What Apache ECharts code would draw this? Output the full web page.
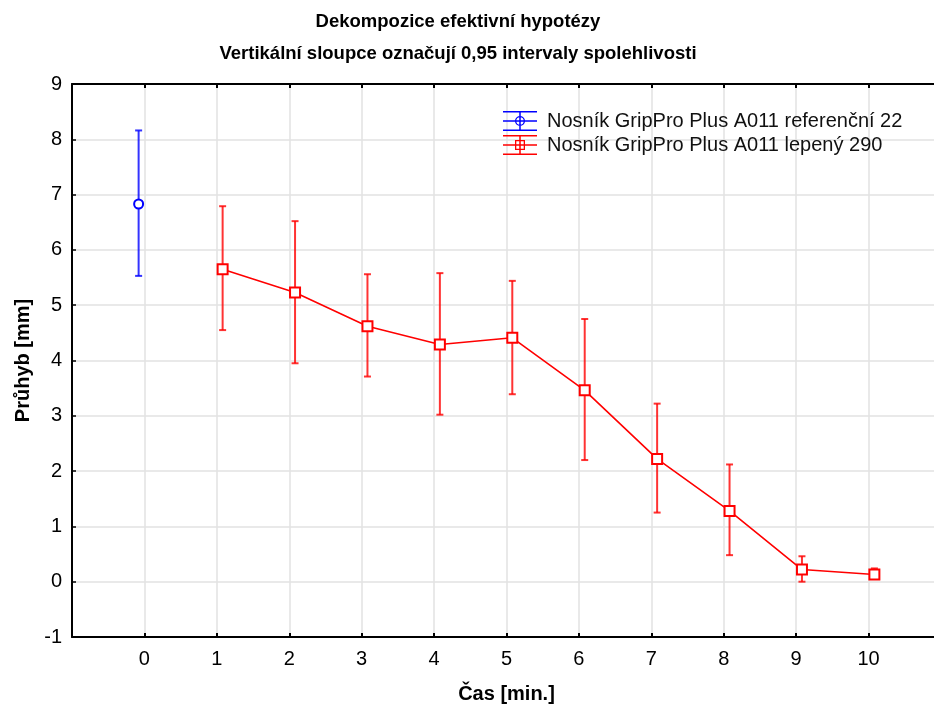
<!DOCTYPE html>
<html>
<head>
<meta charset="utf-8">
<script src="https://cdn.jsdelivr.net/npm/echarts@6/dist/echarts.min.js"></script>
<style>html,body{margin:0;padding:0;background:#fff}#c{width:934px;height:704px}</style>
</head>
<body>
<div id="c"></div>
<script>
// ---- data ----
var titleLines = ['Dekompozice efektivní hypotézy', 'Vertikální sloupce označují 0,95 intervaly spolehlivosti'];
var xName = 'Čas [min.]';
var yName = 'Průhyb [mm]';
var seriesNames = ['Nosník GripPro Plus A011 referenční 22', 'Nosník GripPro Plus A011 lepený 290'];

var refTimes = [0];
var refMean  = [6.83];
var refLow   = [5.53];
var refHigh  = [8.16];

var glueTimes = [1, 2, 3, 4, 5, 6, 7, 8, 9, 10];
var glueMean  = [5.65, 5.23, 4.62, 4.29, 4.41, 3.46, 2.22, 1.28, 0.22, 0.13];
var glueLow   = [4.55, 3.95, 3.71, 3.02, 3.39, 2.20, 1.25, 0.48, 0.00, 0.06];
var glueHigh  = [6.79, 6.52, 5.56, 5.58, 5.44, 4.75, 3.22, 2.12, 0.46, 0.24];

var xTickLabels = ['0','1','2','3','4','5','6','7','8','9','10'];

// ---- build ----
var BLUE = '#0000ff', RED = '#ff0000';
var refOffset = -0.08, glueOffset = 0.08;

function pts(times, vals, off) { return times.map(function (t, i) { return [t + off, vals[i]]; }); }
function bars(times, lo, hi, off) { return times.map(function (t, i) { return [t + off, lo[i], hi[i]]; }); }

function errRender(color) {
  return function (params, api) {
    var x = api.value(0);
    var p1 = api.coord([x, api.value(1)]);
    var p2 = api.coord([x, api.value(2)]);
    var hw = 3.5;
    var st = { stroke: color, lineWidth: 2, opacity: 0.8 };
    return {
      type: 'group',
      children: [
        { type: 'line', shape: { x1: p1[0], y1: p1[1], x2: p2[0], y2: p2[1] }, style: st },
        { type: 'line', shape: { x1: p1[0] - hw, y1: p1[1], x2: p1[0] + hw, y2: p1[1] }, style: st },
        { type: 'line', shape: { x1: p2[0] - hw, y1: p2[1], x2: p2[0] + hw, y2: p2[1] }, style: st }
      ]
    };
  };
}

var iconBase = 'M0 0H34V1.5H0Z M0 18.5H34V20H0Z M16.25 0H17.75V20H16.25Z M0 9.25H34V10.75H0Z ';
var iconCircle = 'path://' + iconBase + 'M12 10A5 5 0 1 1 22 10A5 5 0 1 1 12 10Z M13.3 10A3.7 3.7 0 1 0 20.7 10A3.7 3.7 0 1 0 13.3 10Z';
var iconSquare = 'path://' + iconBase + 'M12 5H22V15H12Z M13.3 6.3V13.7H20.7V6.3Z';

var font = 'Liberation Sans, Arial, sans-serif';

var chart = echarts.init(document.getElementById('c'), null, { renderer: 'canvas' });
chart.setOption({
  backgroundColor: '#fff',
  animation: false,
  textStyle: { fontFamily: font },
  title: {
    text: titleLines.join('\n'),
    left: 453, top: 1, textAlign: 'center',
    textStyle: { fontSize: 18.5, fontWeight: 'bold', color: '#000', lineHeight: 32, fontFamily: font }
  },
  legend: {
    orient: 'vertical', left: 503, top: 111, padding: 0,
    itemWidth: 34, itemHeight: 20, itemGap: 4,
    textStyle: { fontSize: 20, lineHeight: 20, color: '#111', fontFamily: font, padding: [0, 0, 0, 5] },
    selectedMode: false,
    data: [
      { name: seriesNames[0], icon: iconCircle, itemStyle: { color: BLUE, borderWidth: 0 } },
      { name: seriesNames[1], icon: iconSquare, itemStyle: { color: RED, borderWidth: 0 } }
    ]
  },
  grid: { left: 72, top: 84, right: -7, bottom: 67, containLabel: false, outerBoundsMode: 'none' },
  xAxis: [{
    type: 'value', min: -1, max: 11, interval: 1, position: 'bottom',
    name: xName, nameLocation: 'middle', nameGap: 47,
    nameTextStyle: { fontSize: 20, fontWeight: 'bold', color: '#000', fontFamily: font },
    axisLine: { onZero: false, lineStyle: { color: '#000', width: 2 } },
    axisTick: { inside: true, length: 4, lineStyle: { color: '#000', width: 2 } },
    axisLabel: {
      fontSize: 20, color: '#000', margin: 12, fontFamily: font,
      formatter: function (v) { var i = Math.round(v); return (i >= 0 && i < xTickLabels.length) ? xTickLabels[i] : ''; }
    },
    splitLine: { show: true, lineStyle: { color: '#e2e2e2', width: 1.5 } }
  }, {
    type: 'value', min: -1, max: 11, interval: 1, position: 'top',
    axisLine: { onZero: false, lineStyle: { color: '#000', width: 2 } },
    axisTick: { inside: true, length: 4, lineStyle: { color: '#000', width: 2 } },
    axisLabel: { show: false },
    splitLine: { show: false }
  }],
  yAxis: [{
    type: 'value', min: -1, max: 9, interval: 1,
    name: yName, nameLocation: 'middle', nameGap: 39, nameRotate: 90,
    nameTextStyle: { fontSize: 20, fontWeight: 'bold', color: '#000', fontFamily: font },
    axisLine: { show: true, onZero: false, lineStyle: { color: '#000', width: 2 } },
    axisTick: { show: true, inside: true, length: 4, lineStyle: { color: '#000', width: 1.5 } },
    axisLabel: { fontSize: 20, color: '#000', margin: 10, fontFamily: font },
    splitLine: { show: true, lineStyle: { color: '#e2e2e2', width: 1.5 } }
  }],
  series: [
    {
      name: seriesNames[0], type: 'custom', xAxisIndex: 0, yAxisIndex: 0, z: 2,
      renderItem: errRender(BLUE), data: bars(refTimes, refLow, refHigh, refOffset),
      encode: { x: 0, y: [1, 2] }, silent: true
    },
    {
      name: seriesNames[1], type: 'custom', xAxisIndex: 0, yAxisIndex: 0, z: 2,
      renderItem: errRender(RED), data: bars(glueTimes, glueLow, glueHigh, glueOffset),
      encode: { x: 0, y: [1, 2] }, silent: true
    },
    {
      name: 'ref_line', type: 'line', z: 3, data: pts(refTimes, refMean, refOffset),
      symbol: 'emptyCircle', symbolSize: 9, showAllSymbol: true,
      itemStyle: { color: BLUE, borderColor: BLUE, borderWidth: 1.5 },
      lineStyle: { color: BLUE, width: 1.5 }
    },
    {
      name: 'glue_line', type: 'line', z: 3, data: pts(glueTimes, glueMean, glueOffset),
      symbol: 'emptyRect', symbolSize: 10, showAllSymbol: true,
      itemStyle: { color: RED, borderColor: RED, borderWidth: 1.8 },
      lineStyle: { color: RED, width: 1.6 }
    }
  ]
});
</script>
</body>
</html>
